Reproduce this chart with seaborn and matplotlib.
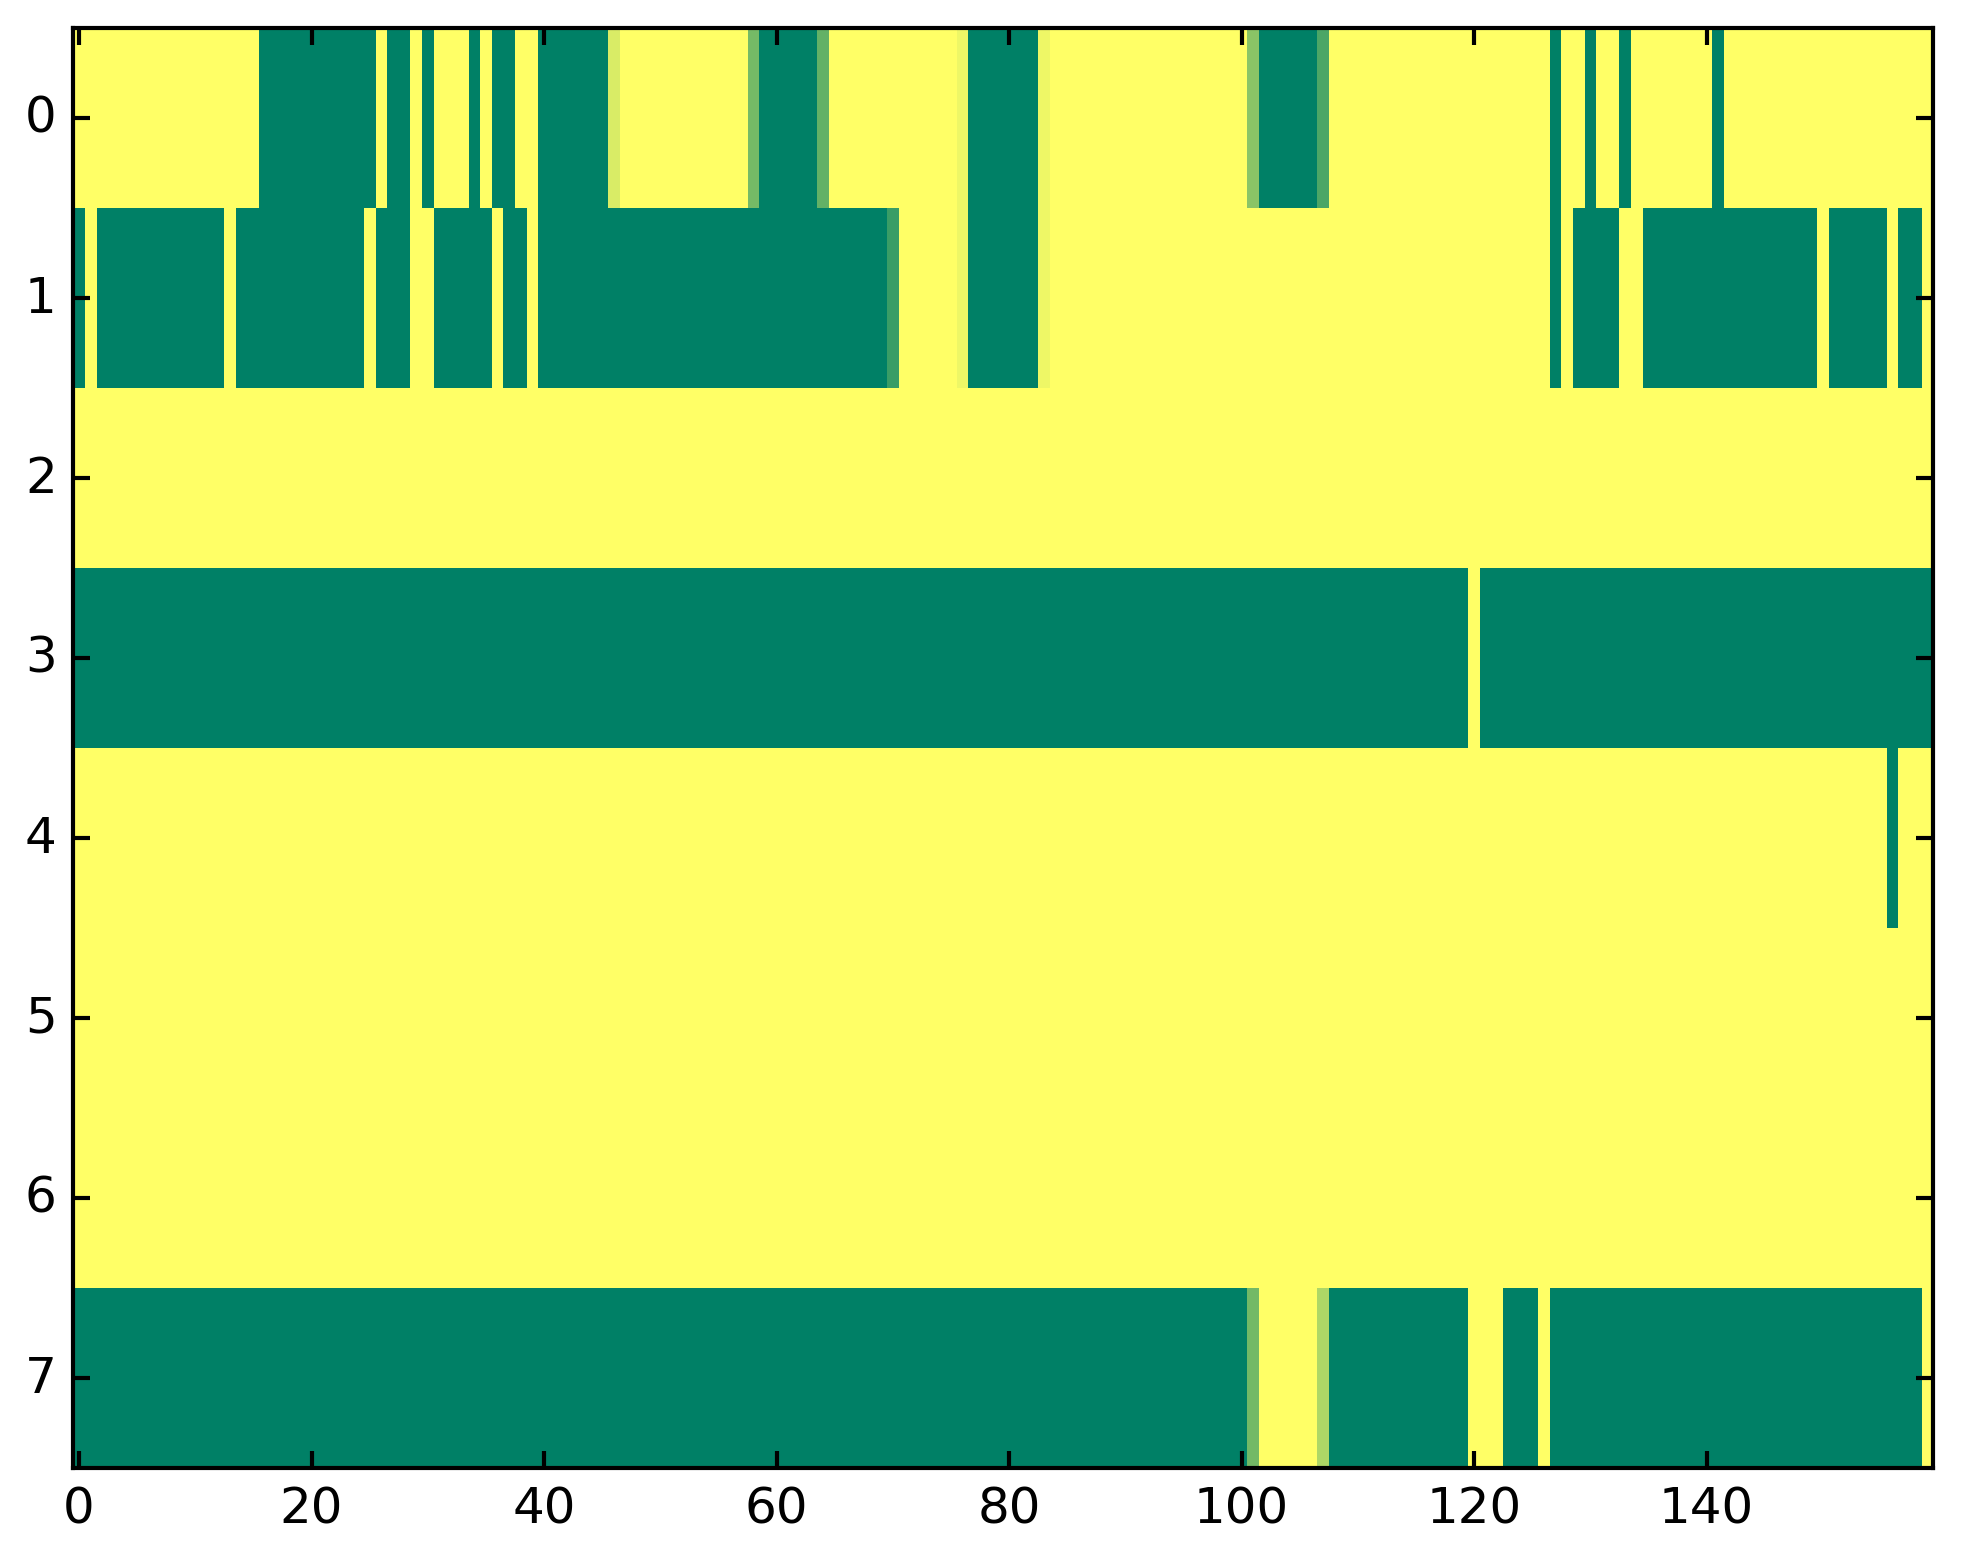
import numpy as np
import matplotlib
matplotlib.use("Agg")
import matplotlib.pyplot as plt
import seaborn as sns

sns.set_style("white")
plt.rcParams["font.family"] = ["DejaVu Sans"]
plt.rcParams["axes.axisbelow"] = False

# Each row as (value, run length) pairs (160 columns)
row0 = [(1, 16), (0, 10), (1, 1), (0, 2), (1, 1), (0, 1), (1, 3), (0, 1), (1, 1), (0, 2),
        (1, 2), (0, 6), (0.85, 1), (1, 11), (0.46, 1), (0, 5), (0.39, 1), (1, 11), (0.93, 1),
        (0, 6), (0.93, 1), (1, 17), (0.54, 1), (0, 5), (0.30, 1), (1, 19), (0, 1), (1, 2),
        (0, 1), (1, 2), (0, 1), (1, 7), (0, 1), (1, 18)]
row1 = [(0, 1), (1, 1), (0, 11), (1, 1), (0, 11), (1, 1), (0, 3), (1, 2), (0, 5), (1, 1),
        (0, 2), (1, 1), (0, 30), (0.23, 1), (1, 5), (0.93, 1), (0, 6), (0.93, 1), (1, 43),
        (0, 1), (1, 1), (0, 4), (1, 2), (0, 15), (1, 1), (0, 5), (1, 1), (0, 2), (1, 1)]
row2 = [(1, 160)]
row3 = [(0, 120), (1, 1), (0, 39)]
row4 = [(1, 156), (0, 1), (1, 3)]
row5 = [(1, 160)]
row6 = [(1, 160)]
row7 = [(0, 101), (0.45, 1), (1, 5), (0.68, 1), (0, 12), (1, 3), (0, 3), (1, 1), (0, 32), (1, 1)]

rows = [row0, row1, row2, row3, row4, row5, row6, row7]
x_ticks = [0, 20, 40, 60, 80, 100, 120, 140]
y_ticks = [0, 1, 2, 3, 4, 5, 6, 7]

data = np.vstack([np.repeat([v for v, n in r], [n for v, n in r]) for r in rows])

W, H, DPI = 1963, 1564, 300
fig = plt.figure(figsize=(W / DPI, H / DPI), dpi=DPI)
left, right, top, bottom = 73.3 / W, 1933.3 / W, 1 - 28.7 / H, 1 - 1468.7 / H
ax = fig.add_axes([left, bottom, right - left, top - bottom])

sns.heatmap(data, ax=ax, cmap="summer", vmin=0, vmax=1, cbar=False,
            xticklabels=False, yticklabels=False)

ax.set_axisbelow(False)
for s in ax.spines.values():
    s.set_visible(True)
    s.set_linewidth(1.0)
    s.set_color("black")
    s.set_zorder(5)

ax.set_xticks(np.array(x_ticks) + 0.5)
ax.set_xticklabels([str(t) for t in x_ticks], rotation=0)
ax.set_yticks(np.array(y_ticks) + 0.5)
ax.set_yticklabels([str(t) for t in y_ticks], rotation=0, va="center")
ax.tick_params(direction="in", top=True, right=True, bottom=True, left=True,
               length=4, width=1, pad=4, labelsize=12, colors="black")
ax.set_xlim(0, data.shape[1])
ax.set_ylim(data.shape[0], 0)

fig.savefig("out.png", dpi=DPI)
